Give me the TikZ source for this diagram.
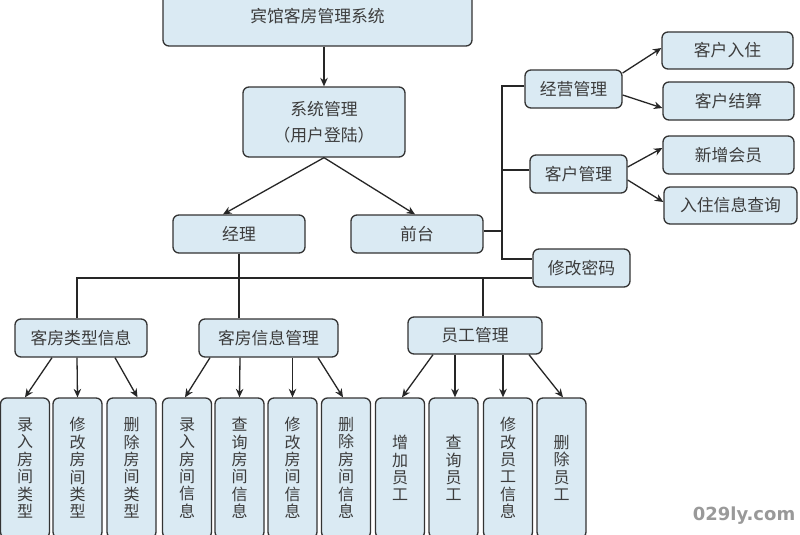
\documentclass[tikz,border=0pt]{standalone}
\usepackage{fontspec}
\newfontfamily\cjk{Noto Sans CJK SC}
\newfontfamily\wmfont{DejaVu Sans}
\usetikzlibrary{arrows.meta,calc}
\definecolor{boxfill}{HTML}{DAEAF3}
\definecolor{boxline}{HTML}{333333}
\definecolor{txt}{HTML}{3C3C3C}
\tikzset{
  box/.style={draw=boxline, fill=boxfill, line width=1.3pt, rounded corners=6pt,
    inner sep=0pt, text=txt, font=\cjk\fontsize{16.8}{19}\selectfont, align=center},
  leaf/.style={box, minimum width=49pt, minimum height=140pt,
    font=\cjk\fontsize{16}{17.4}\selectfont},
  conn/.style={draw=black!85, line width=1.3pt},
  arr/.style={conn, -{Stealth[length=8.5pt,width=7.5pt]}},
}
\begin{document}
\begin{tikzpicture}[x=1pt,y=-1pt]
\useasboundingbox (0,0) rectangle (800,535);
\clip (0,0) rectangle (800,535);
\fill[white] (0,0) rectangle (800,535);

% top levels
\node[box, minimum width=309pt, minimum height=59pt] (top) at (317.5,16.5) {宾馆客房管理系统};
\node[box, minimum width=162pt, minimum height=70pt, font=\cjk\fontsize{16.8}{26}\selectfont] (sys) at (324,122) {系统管理\\（用户登陆）};
\node[box, minimum width=132pt, minimum height=38pt] (jl) at (239,234) {经理};
\node[box, minimum width=132pt, minimum height=38pt] (qt) at (417,234) {前台};

% right side
\node[box, minimum width=97pt, minimum height=38pt] (jy) at (573.5,89) {经营管理};
\node[box, minimum width=97pt, minimum height=38pt] (kh) at (578.5,174) {客户管理};
\node[box, minimum width=97pt, minimum height=38pt] (xg) at (581.5,268) {修改密码};
\node[box, minimum width=131pt, minimum height=37pt] (rz) at (727.5,50.5) {客户入住};
\node[box, minimum width=131pt, minimum height=38pt] (js) at (728.5,101) {客户结算};
\node[box, minimum width=131pt, minimum height=38pt] (hy) at (728.5,155) {新增会员};
\node[box, minimum width=133pt, minimum height=37pt] (cx) at (730.5,205.5) {入住信息查询};

% second level under manager
\node[box, minimum width=132pt, minimum height=38pt] (ktype) at (81,338) {客房类型信息};
\node[box, minimum width=139pt, minimum height=38pt] (kinfo) at (268.5,338) {客房信息管理};
\node[box, minimum width=134pt, minimum height=37pt] (emp) at (475,335.5) {员工管理};

% leaves
\node[leaf] (l1) at (25,468) {录\\入\\房\\间\\类\\型};
\node[leaf] (l2) at (77.5,468) {修\\改\\房\\间\\类\\型};
\node[leaf] (l3) at (131.5,468) {删\\除\\房\\间\\类\\型};
\node[leaf] (l4) at (187,468) {录\\入\\房\\间\\信\\息};
\node[leaf] (l5) at (239.5,468) {查\\询\\房\\间\\信\\息};
\node[leaf] (l6) at (292.5,468) {修\\改\\房\\间\\信\\息};
\node[leaf] (l7) at (346,468) {删\\除\\房\\间\\信\\息};
\node[leaf] (l8) at (400,468) {增\\加\\员\\工};
\node[leaf] (l9) at (453.5,468) {查\\询\\员\\工};
\node[leaf] (l10) at (508,468) {修\\改\\员\\工\\信\\息};
\node[leaf] (l11) at (561.5,468) {删\\除\\员\\工};

% watermark
\node[text=black!40, font=\wmfont\bfseries\fontsize{18}{21}\selectfont, inner sep=0pt] (wm) at (744,516) {029ly.com};

% connectors top
\draw[arr] (top.south -| sys.north) -- (sys.north);
\draw[arr] (sys.south) -- ([xshift=-16pt]jl.north);
\draw[arr] (sys.south) -- ([xshift=-2pt]qt.north);

% trunk on the right
\coordinate (tr) at (502,0);
\draw[conn] ([yshift=3pt]qt.east) -- ([yshift=3pt]qt.east -| tr);
\draw[conn] ([yshift=3pt]jy.west) -- ([yshift=3pt]jy.west -| tr) -- ([yshift=9pt]xg.west -| tr) -- ([yshift=9pt]xg.west);
\draw[conn] ([yshift=4pt]kh.west) -- ([yshift=4pt]kh.west -| tr);

\draw[arr] ([yshift=16pt]jy.east) -- ([yshift=2.5pt]rz.west);
\draw[arr] ([yshift=-6pt]jy.east) -- ([yshift=-7pt]js.west);
\draw[arr] ([yshift=7pt]kh.east) -- ([yshift=7pt]hy.west);
\draw[arr] ([yshift=-6pt]kh.east) -- ([yshift=3.5pt]cx.west);

% bus under manager
\coordinate (bus) at (0,278);
\draw[conn] (jl.south) -- (jl.south |- bus);
\draw[conn] ([xshift=-4pt]ktype.north) -- ([xshift=-4pt]ktype.north |- bus) -- ([yshift=-10pt]xg.west);
\draw[conn] (kinfo.north -| jl.south) -- (jl.south |- bus);
\draw[conn] ([xshift=8pt]emp.north) -- ([xshift=8pt]emp.north |- bus);

% leaf arrows
\draw[arr] ([xshift=-29pt]ktype.south) -- (l1.north);
\draw[arr] ([xshift=-4pt]ktype.south) -- (l2.north);
\draw[arr] ([xshift=34pt]ktype.south) -- ([xshift=6pt]l3.north);
\draw[arr] ([xshift=-58.5pt]kinfo.south) -- ([xshift=-2pt]l4.north);
\draw[arr] ([xshift=-28.5pt]kinfo.south) -- (l5.north);
\draw[arr] ([xshift=24pt]kinfo.south) -- (l6.north);
\draw[arr] ([xshift=49.5pt]kinfo.south) -- ([xshift=-3pt]l7.north);
\draw[arr] ([xshift=-42pt]emp.south) -- ([xshift=2pt]l8.north);
\draw[arr] ([xshift=-20pt]emp.south) -- ([xshift=1.5pt]l9.north);
\draw[arr] ([xshift=28pt]emp.south) -- ([xshift=-5pt]l10.north);
\draw[arr] ([xshift=54pt]emp.south) -- ([xshift=1.5pt]l11.north);
\end{tikzpicture}
\end{document}
